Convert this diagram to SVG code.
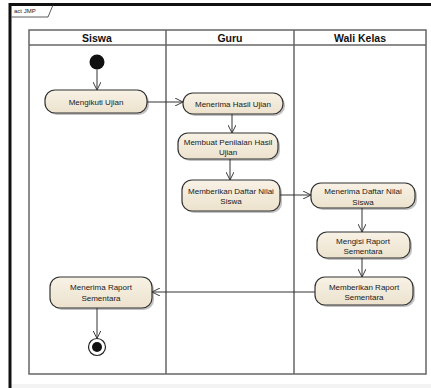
<svg xmlns="http://www.w3.org/2000/svg" width="431" height="388" viewBox="0 0 431 388">
<defs>
<style>
.frame{fill:none;stroke:#111;stroke-width:3}
.lane{fill:none;stroke:#666;stroke-width:1.5}
.hdr{font-family:"Liberation Sans",Arial,sans-serif;font-weight:bold;font-size:10.5px;fill:#111;text-anchor:middle}
.act rect.sh{fill:#999;opacity:0.6}
.act rect.bx{fill:url(#g);stroke:#333;stroke-width:1.2}
.act text{font-family:"Liberation Sans",Arial,sans-serif;font-size:8px;fill:#1a1a1a;text-anchor:middle}
.conn line,.conn path{fill:none;stroke:#333;stroke-width:1}
</style>
<linearGradient id="g" x1="0" y1="0" x2="0" y2="1">
<stop offset="0" stop-color="#f8f2e6"/>
<stop offset="1" stop-color="#ece2cd"/>
</linearGradient>
<marker id="ah" viewBox="0 0 10 10" refX="10" refY="5" markerWidth="8" markerHeight="8" orient="auto" markerUnits="userSpaceOnUse">
<path d="M0,0 L10,5 L0,10" fill="none" stroke="#333" stroke-width="1.2"/>
</marker>
</defs>
<rect x="0" y="0" width="431" height="388" fill="#fff"/>
<rect x="11" y="384" width="420" height="4" fill="#f3f3f3"/>
<g id="frame">
<path class="frame" d="M10,388 V4.5 H431"/>
<path d="M11.5,17 H48 L53,5" fill="none" stroke="#333" stroke-width="0.8"/>
<text x="14" y="13" font-family="Liberation Sans,Arial,sans-serif" font-size="6" fill="#222">act JMP</text>
</g>
<g id="lanes">
<rect class="lane" x="29" y="30" width="397" height="344"/>
<line class="lane" x1="29" y1="45" x2="426" y2="45"/>
<line class="lane" x1="166" y1="30" x2="166" y2="374"/>
<line class="lane" x1="294" y1="30" x2="294" y2="374"/>
<text class="hdr" x="97" y="42">Siswa</text>
<text class="hdr" x="230" y="42">Guru</text>
<text class="hdr" x="360" y="42">Wali Kelas</text>
</g>
<g id="start"><circle cx="97" cy="62" r="7.5" fill="#111"/></g>
<g id="a1" class="act"><rect class="sh" x="47" y="92" width="102" height="23" rx="10"/><rect class="bx" x="45" y="90" width="102" height="23" rx="10"/><text x="96" y="104.5">Mengikuti Ujian</text></g>
<g id="a2" class="act"><rect class="sh" x="185" y="95" width="100" height="21" rx="10"/><rect class="bx" x="183" y="93" width="100" height="21" rx="10"/><text x="233" y="106.5">Menerima Hasil Ujian</text></g>
<g id="a3" class="act"><rect class="sh" x="180" y="135" width="100" height="26" rx="10"/><rect class="bx" x="178" y="133" width="100" height="26" rx="10"/><text x="228" y="144.5">Membuat Penilaian Hasil</text><text x="228" y="155">Ujian</text></g>
<g id="a4" class="act"><rect class="sh" x="184" y="182" width="98" height="31" rx="10"/><rect class="bx" x="182" y="180" width="98" height="31" rx="10"/><text x="231" y="193.5">Memberikan Daftar Nilai</text><text x="231" y="204">Siswa</text></g>
<g id="a5" class="act"><rect class="sh" x="313" y="185" width="104" height="25" rx="10"/><rect class="bx" x="311" y="183" width="104" height="25" rx="10"/><text x="363" y="194">Menerima Daftar Nilai</text><text x="363" y="204.5">Siswa</text></g>
<g id="a6" class="act"><rect class="sh" x="319" y="234" width="93" height="26" rx="10"/><rect class="bx" x="317" y="232" width="93" height="26" rx="10"/><text x="363" y="243.5">Mengisi Raport</text><text x="363" y="254">Sementara</text></g>
<g id="a7" class="act"><rect class="sh" x="317" y="279" width="98" height="28" rx="10"/><rect class="bx" x="315" y="277" width="98" height="28" rx="10"/><text x="364" y="289.5">Memberikan Raport</text><text x="364" y="300">Sementara</text></g>
<g id="a8" class="act"><rect class="sh" x="52" y="279" width="102" height="31" rx="10"/><rect class="bx" x="50" y="277" width="102" height="31" rx="10"/><text x="101" y="290">Menerima Raport</text><text x="101" y="300.5">Sementara</text></g>
<g id="end"><circle cx="97" cy="347" r="8.5" fill="#fff" stroke="#222" stroke-width="1.2"/><circle cx="97" cy="347" r="5" fill="#111"/></g>
<g id="connectors" class="conn">
<line x1="97" y1="69.5" x2="97" y2="90" marker-end="url(#ah)"/>
<line x1="147" y1="102" x2="183" y2="102" marker-end="url(#ah)"/>
<line x1="232" y1="114" x2="232" y2="133" marker-end="url(#ah)"/>
<line x1="230" y1="159" x2="230" y2="180" marker-end="url(#ah)"/>
<line x1="280" y1="195" x2="311" y2="195" marker-end="url(#ah)"/>
<line x1="362" y1="208" x2="362" y2="232" marker-end="url(#ah)"/>
<line x1="362" y1="258" x2="362" y2="277" marker-end="url(#ah)"/>
<line x1="315" y1="292" x2="152" y2="292" marker-end="url(#ah)"/>
<line x1="97" y1="308" x2="97" y2="338.5" marker-end="url(#ah)"/>
</g>
</svg>
